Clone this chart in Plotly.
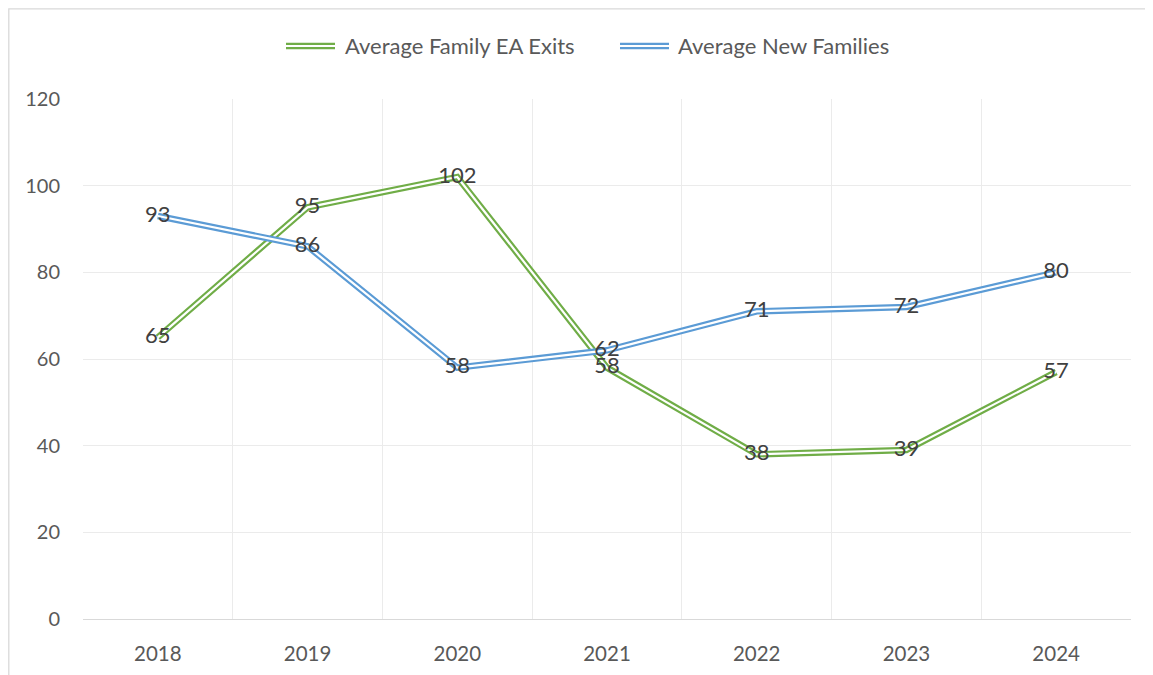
import plotly.graph_objects as go

years = ["2018", "2019", "2020", "2021", "2022", "2023", "2024"]
exits = [65, 95, 102, 58, 38, 39, 57]
new_families = [93, 86, 58, 62, 71, 72, 80]
series_names = ["Average Family EA Exits", "Average New Families"]
colors = ["#70ad47", "#5b9bd5"]

FONT = "Lato, 'Open Sans', sans-serif"
x = list(range(len(years)))

OFF = 8  # page body offset
LW, WW = 6.5, 2.2

fig = go.Figure()
for vals, col in zip([exits, new_families], colors):
    fig.add_trace(go.Scatter(x=x, y=vals, mode="lines", line=dict(color=col, width=LW),
                             showlegend=False, hoverinfo="skip"))
    fig.add_trace(go.Scatter(x=x, y=vals, mode="lines", line=dict(color="white", width=WW),
                             showlegend=False, hoverinfo="skip"))
for vals in [exits, new_families]:
    fig.add_trace(go.Scatter(x=x, y=vals, mode="text", text=[str(v) for v in vals],
                             textposition="middle center",
                             textfont=dict(family=FONT, size=22, color="#404040"),
                             showlegend=False, hoverinfo="skip"))

W, H = 1153, 675
# target screen positions of plot area
L, R, T, B = 83, 1131, 99, 619
pw, ph = R - L, B - T

def px(xp):
    return (xp - L) / pw

def py(yp):
    return (B - yp) / ph

shapes = []
annotations = []
shapes.append(dict(type="rect", xref="paper", yref="paper", x0=px(8.8), x1=px(1170), y0=py(8.8), y1=py(700),
                   line=dict(color="#d9d9d9", width=1.3), fillcolor="rgba(0,0,0,0)", layer="below"))
legend_items = [(286, 335, 343), (620, 669, 676)]
for (x0, x1, tx), col, name in zip(legend_items, colors, series_names):
    shapes.append(dict(type="line", xref="paper", yref="paper", x0=px(x0), x1=px(x1), y0=py(46), y1=py(46),
                       line=dict(color=col, width=LW)))
    shapes.append(dict(type="line", xref="paper", yref="paper", x0=px(x0), x1=px(x1), y0=py(46), y1=py(46),
                       line=dict(color="white", width=WW)))
    annotations.append(dict(xref="paper", yref="paper", x=px(tx), y=py(46), text=name, showarrow=False,
                            xanchor="left", yanchor="middle",
                            font=dict(family=FONT, size=22, color="#595959")))

fig.update_layout(
    width=W, height=H,
    margin=dict(l=L - OFF, r=W - R + OFF, t=T - OFF, b=H - B + OFF),
    paper_bgcolor="white", plot_bgcolor="white",
    showlegend=False,
    shapes=shapes, annotations=annotations,
    xaxis=dict(range=[-0.5, 6.5], tickmode="array", tickvals=x, ticktext=years,
               showgrid=False, zeroline=False, showline=True, linecolor="#d9d9d9", linewidth=1.2,
               ticks="", tickfont=dict(family=FONT, size=20.5, color="#595959"),
               ticklabelstandoff=16,
               minor=dict(tickmode="array", tickvals=[-0.5, 0.5, 1.5, 2.5, 3.5, 4.5, 5.5, 6.5],
                          showgrid=True, gridcolor="#ebebeb", gridwidth=1.2, ticks="")),
    yaxis=dict(range=[0, 120], tickmode="array", tickvals=[0, 20, 40, 60, 80, 100, 120],
               showgrid=True, gridcolor="#ebebeb", gridwidth=1.2, zeroline=False, showline=False,
               ticks="", tickfont=dict(family=FONT, size=20, color="#595959"),
               ticklabelstandoff=22),
)

fig.write_html("out.html")
